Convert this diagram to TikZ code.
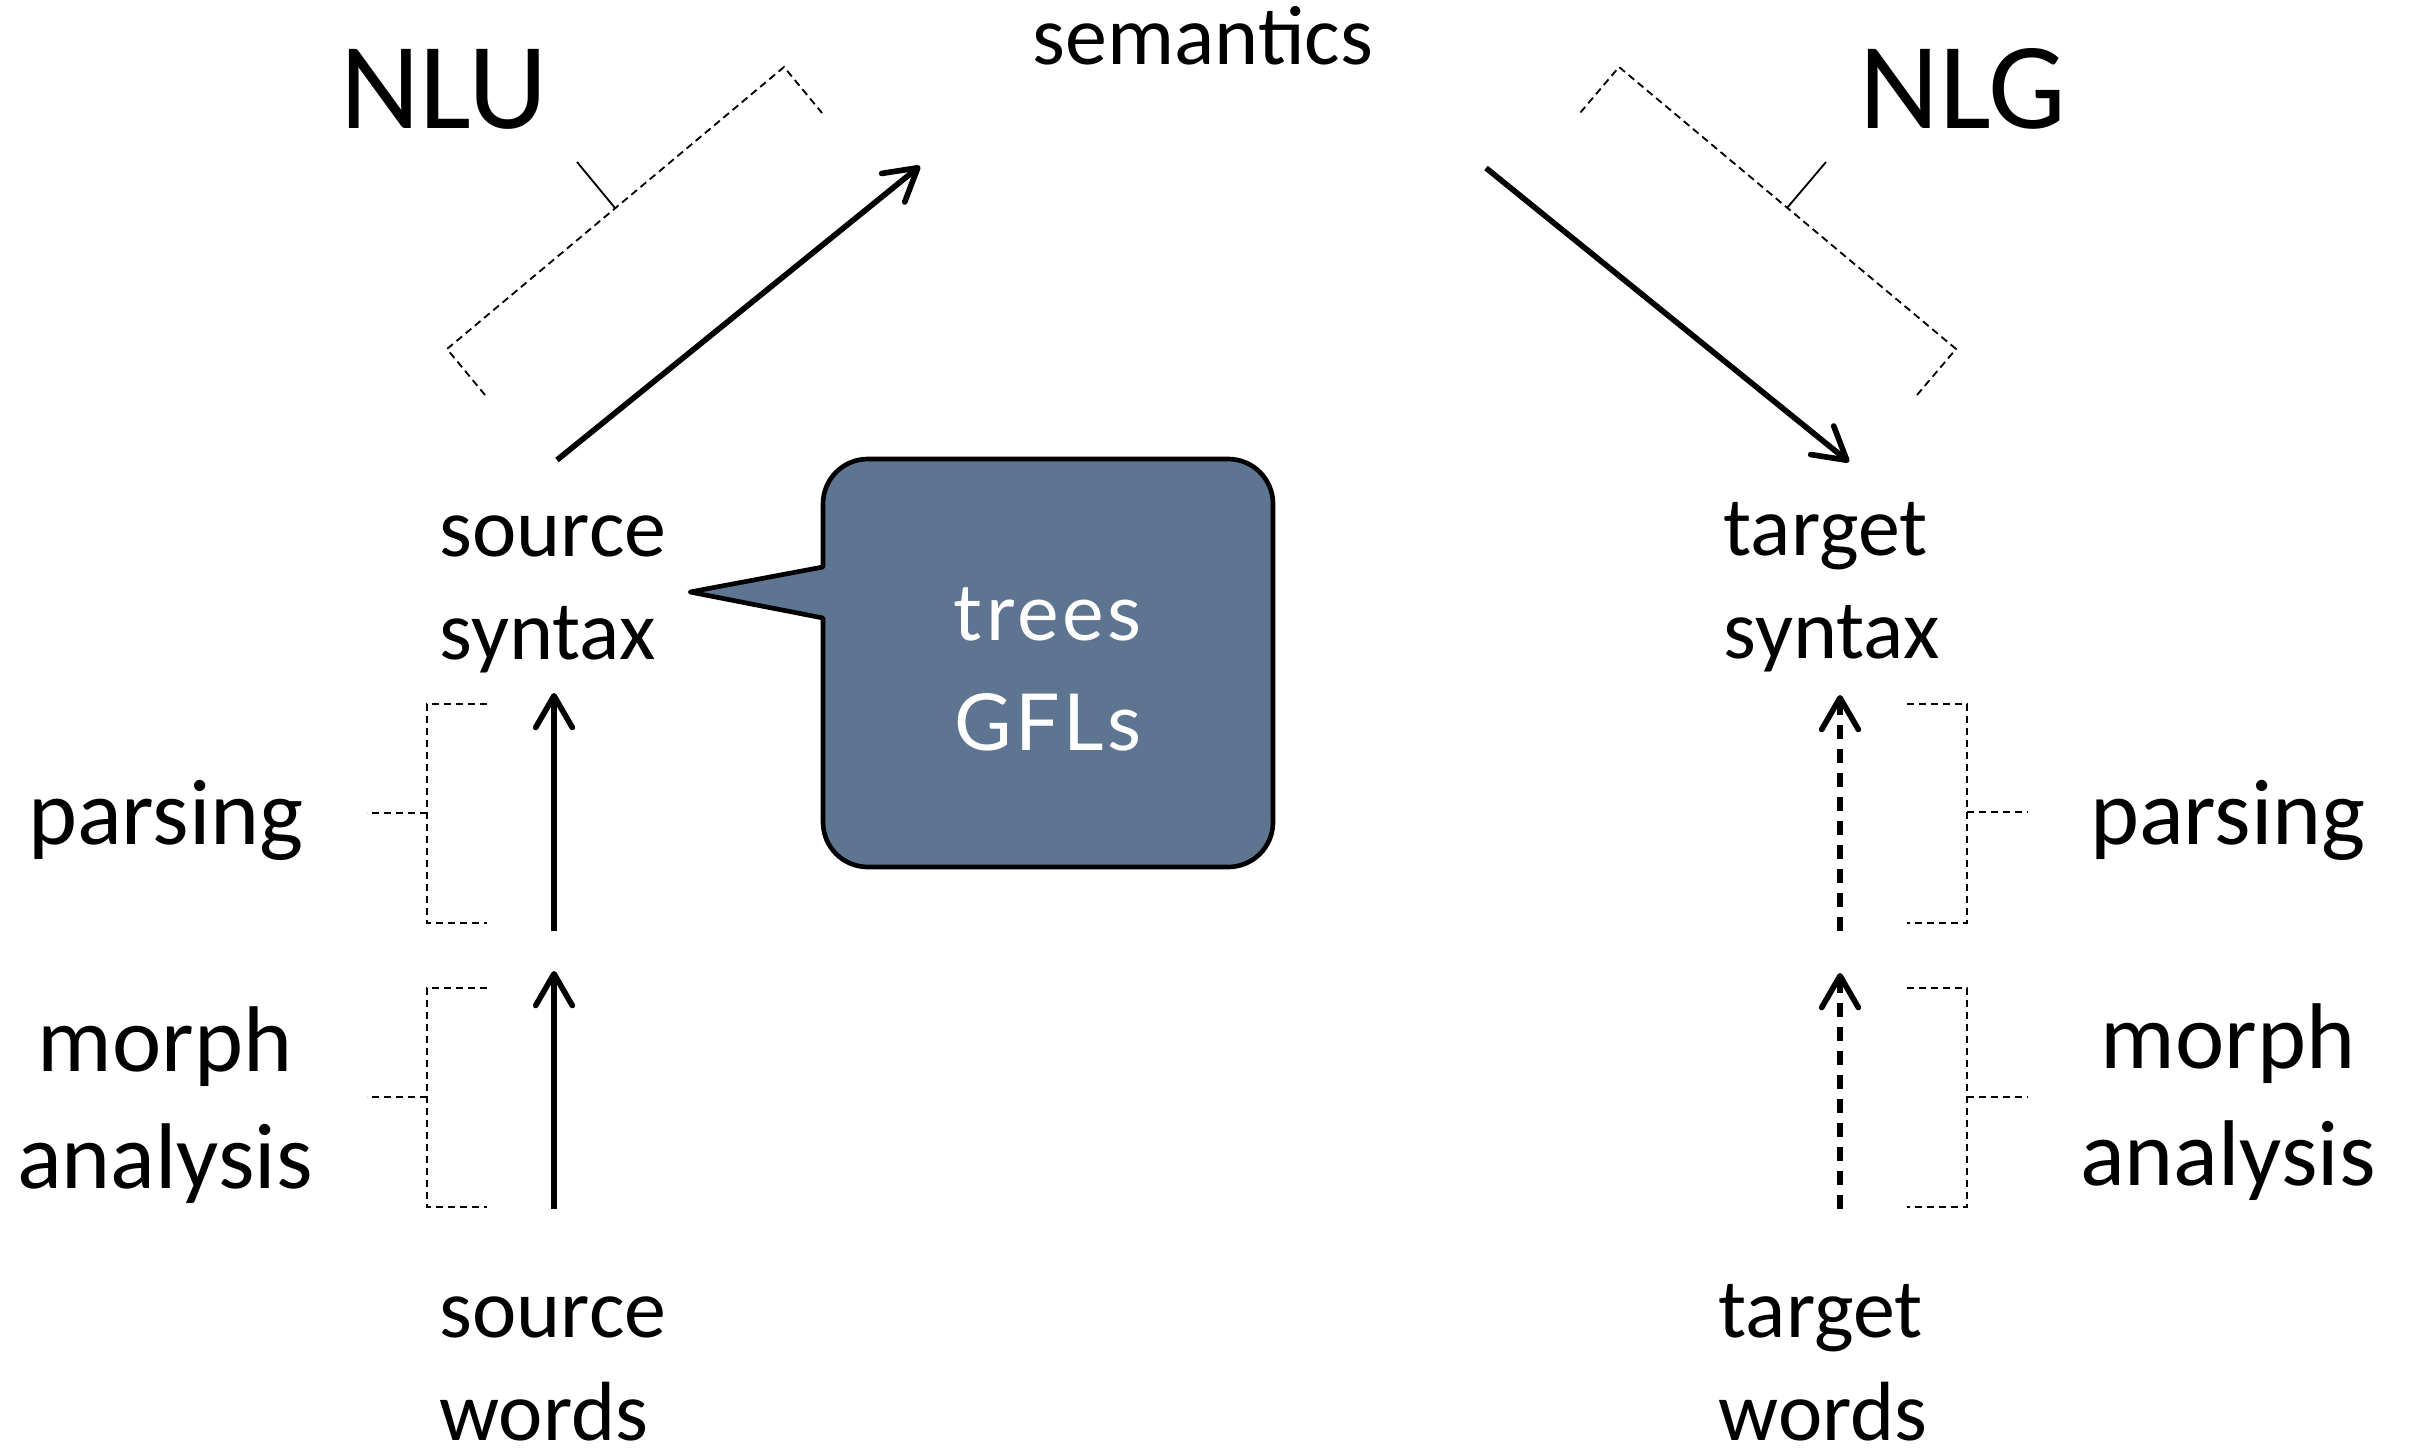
\documentclass[tikz,border=0pt]{standalone}
\usepackage{fontspec}
\setmainfont{Carlito}
\newfontfamily\bubblefont[LetterSpace=5]{Lato}
\usetikzlibrary{arrows.meta}
\definecolor{bubblefill}{RGB}{94,117,146}
\newcommand\mylines[2]{\vtop{\hbox{#1}\hbox{#2}}}
\newcommand\mylinesc[2]{\vtop{\halign{\hfil##\hfil\cr#1\cr#2\cr}}}
\tikzset{
  lbl/.style={inner sep=0pt, font=\fontsize{25.2}{30.9}\selectfont},
  side/.style={inner sep=0pt, font=\fontsize{28}{35.1}\selectfont},
  big/.style={inner sep=0pt, font=\fontsize{37}{44}\selectfont},
  bubtext/.style={inner sep=0pt, text=white, font=\bubblefont\fontsize{23.6}{33}\selectfont},
  arr/.style={line width=1.7pt, -{Straight Barb[length=9.5pt,width=11pt,round]}},
  darr/.style={arr, dash pattern=on 4.2pt off 3pt},
  brk/.style={line width=0.55pt, dash pattern=on 2.2pt off 1.4pt},
  tickln/.style={line width=0.55pt},
  bubbleshape/.style={fill=bubblefill, draw=black, line width=1.4pt, line join=round},
}
\begin{document}
\begin{tikzpicture}[x=0.3pt, y=-0.3pt]
\fill[white] (0,0) rectangle (2413,1448);
\useasboundingbox (0,0) rectangle (2413,1448);

% text nodes
\node[lbl, anchor=base] (sem) at (1203,65) {semantics};
\node[big, anchor=base] (nlu) at (444,129) {NLU};
\node[big, anchor=base] (nlg) at (1963,129) {NLG};
\node[lbl, anchor=base west] (ssyn) at (439,556) {\mylines{source}{syntax}};
\node[lbl, anchor=base west] (tsyn) at (1723,555) {\mylines{target}{syntax}};
\node[lbl, anchor=base west] (swords) at (439,1337) {\mylines{source}{words}};
\node[lbl, anchor=base west] (twords) at (1718,1337) {\mylines{target}{words}};
\node[side, anchor=base] (parseL) at (166,844) {parsing};
\node[side, anchor=base] (parseR) at (2228,844) {parsing};
\node[side, anchor=base] (morphL) at (165,1071) {\mylinesc{morph}{analysis}};
\node[side, anchor=base] (morphR) at (2228,1068) {\mylinesc{morph}{analysis}};

% arrow end points
\coordinate (ssynOut) at (557,460);
\coordinate (semInL) at (920,166);
\coordinate (semOutR) at (1486,168);
\coordinate (tsynIn) at (1849,462);
\coordinate (ssynIn) at (554,693);
\coordinate (sMidTop) at (554,931);
\coordinate (sMidBot) at (554,971);
\coordinate (swOut) at (554,1209);
\coordinate (tsynInB) at (1840,695);
\coordinate (tMidTop) at (1840,931);
\coordinate (tMidBot) at (1840,973);
\coordinate (twOut) at (1840,1209);

% connectors
\draw[arr] (ssynOut) -- (semInL);
\draw[arr] (semOutR) -- (tsynIn);
\draw[arr] (sMidTop) -- (ssynIn);
\draw[arr] (swOut) -- (sMidBot);
\draw[darr] (tMidTop) -- (tsynInB);
\draw[darr] (twOut) -- (tMidBot);

% diagonal braces
\draw[brk] (485,395) -- (447,349) -- (784,67) -- (822,113);
\draw[tickln] (615,208) -- (577,162);
\draw[brk] (1917,395) -- (1956,349) -- (1619,67) -- (1580,113);
\draw[tickln] (1787,208) -- (1826,162);

% vertical brackets, left
\draw[brk] (487,704) -- (427,704) -- (427,923) -- (487,923);
\draw[brk] (427,813) -- (367,813);
\draw[brk] (487,988) -- (427,988) -- (427,1207) -- (487,1207);
\draw[brk] (427,1097) -- (367,1097);
% vertical brackets, right
\draw[brk] (1907,704) -- (1967,704) -- (1967,923) -- (1907,923);
\draw[brk] (1967,812) -- (2028,812);
\draw[brk] (1907,988) -- (1967,988) -- (1967,1207) -- (1907,1207);
\draw[brk] (1967,1097) -- (2028,1097);

% speech bubble
\draw[bubbleshape] (690,592) -- (823,567) -- (823,504)
  .. controls (823,479) and (843,459) .. (868,459) -- (1228,459)
  .. controls (1253,459) and (1273,479) .. (1273,504) -- (1273,822)
  .. controls (1273,847) and (1253,867) .. (1228,867) -- (868,867)
  .. controls (843,867) and (823,847) .. (823,822) -- (823,618) -- cycle;
\node[bubtext, anchor=base] (bubble) at (1048,640) {\mylinesc{trees}{GFLs}};
\end{tikzpicture}
\end{document}
